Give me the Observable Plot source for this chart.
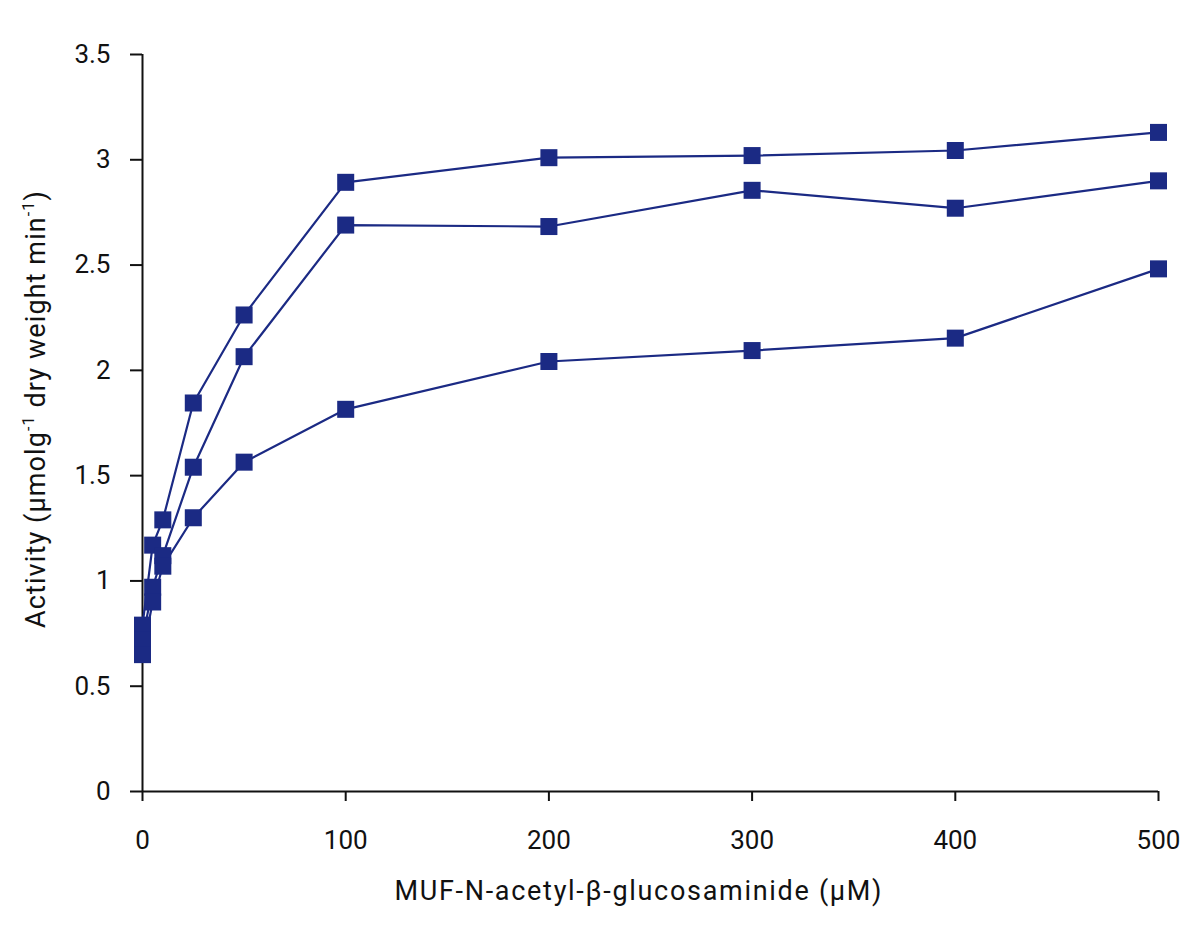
<!DOCTYPE html>
<html>
<head>
<meta charset="utf-8">
<script src="https://cdn.jsdelivr.net/npm/d3@7"></script>
<script src="https://cdn.jsdelivr.net/npm/@observablehq/plot@0.6"></script>
<style>
  html, body { margin: 0; padding: 0; background: #fff; }
  #chart svg { display: block; }
</style>
</head>
<body>
<div id="chart"></div>
<script>
const concentrations = [0, 5, 10, 25, 50, 100, 200, 300, 400, 500];
const seriesA = [0.79, 1.17, 1.29, 1.845, 2.263, 2.893, 3.01, 3.02, 3.044, 3.13];
const seriesB = [0.72, 0.97, 1.12, 1.54, 2.065, 2.69, 2.683, 2.855, 2.77, 2.90];
const seriesC = [0.65, 0.90, 1.07, 1.30, 1.564, 1.815, 2.042, 2.094, 2.153, 2.482];
const seriesNames = ["A", "B", "C"];
const xTicks = [0, 100, 200, 300, 400, 500];
const yTicks = [0, 0.5, 1, 1.5, 2, 2.5, 3, 3.5];

const allSeries = [seriesA, seriesB, seriesC];
const data = [];
allSeries.forEach((vals, i) => {
  vals.forEach((v, j) => data.push({series: seriesNames[i], x: concentrations[j], y: v}));
});

const color = "#1b2a84";
const font = "Roboto, 'DejaVu Sans', sans-serif";

const chart = Plot.plot({
  width: 1200,
  height: 931,
  marginLeft: 142,
  marginRight: 42,
  marginTop: 54,
  marginBottom: 140,
  style: {fontFamily: font, fontSize: "26px", color: "#111", background: "#fff"},
  x: {domain: [0, 500]},
  y: {domain: [0, 3.5]},
  marks: [
    Plot.axisX({ticks: xTicks, tickSize: 10, tickPadding: 29, tickFormat: d => String(d), label: null, strokeWidth: 2, fontSize: 26}),
    Plot.axisY({ticks: yTicks, tickSize: 12, tickPadding: 20, tickFormat: d => String(d), label: null, strokeWidth: 2, fontSize: 26}),
    Plot.ruleX([0], {y1: 0, y2: 3.5, stroke: "#111", strokeWidth: 2}),
    Plot.ruleY([0], {x1: 0, x2: 500, stroke: "#111", strokeWidth: 2}),
    Plot.line(data, {x: "x", y: "y", z: "series", stroke: color, strokeWidth: 2.2, curve: "linear"}),
    Plot.dot(data, {x: "x", y: "y", symbol: "square", r: 9.6, fill: color, stroke: "none"})
  ]
});

document.getElementById("chart").appendChild(chart);

const svg = d3.select(chart);
svg.append("text")
  .attr("x", 638).attr("y", 900)
  .attr("text-anchor", "middle")
  .attr("font-family", font).attr("font-size", 27).attr("fill", "#111")
  .attr("textLength", 487).attr("lengthAdjust", "spacing")
  .text("MUF-N-acetyl-β-glucosaminide (μM)");

const yt = svg.append("text")
  .attr("transform", "translate(45,409) rotate(-90)")
  .attr("text-anchor", "middle")
  .attr("font-family", font).attr("font-size", 27).attr("fill", "#111");
yt.append("tspan").text("Activity (μmolg");
yt.append("tspan").attr("dy", -11).attr("font-size", 16).text("-1");
yt.append("tspan").attr("dy", 11).text(" dry weight min");
yt.append("tspan").attr("dy", -11).attr("font-size", 16).text("-1");
yt.append("tspan").attr("dy", 11).text(")");

// stretch the y title to the reference's length by letter spacing
const node = yt.node();
const len = node.getComputedTextLength();
const nChars = node.textContent.length;
if (len > 0 && len < 438) yt.attr("letter-spacing", ((438 - len) / nChars).toFixed(2));
</script>
</body>
</html>
